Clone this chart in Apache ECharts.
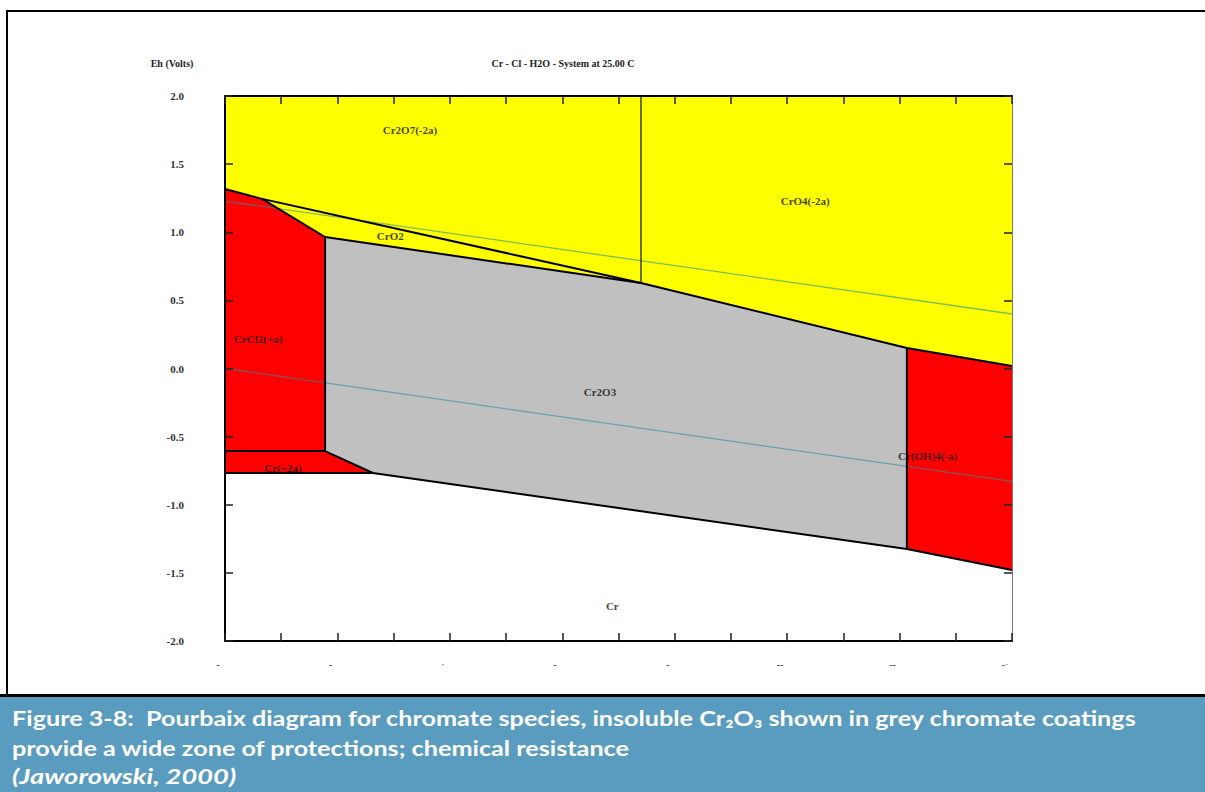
<!DOCTYPE html>
<html><head><meta charset="utf-8">
<script src="https://cdn.jsdelivr.net/npm/echarts@6/dist/echarts.min.js"></script>
<style>html,body{margin:0;padding:0;background:#fff;}#c{width:1205px;height:792px;}</style>
</head><body><div id="c"></div>
<script>
// ---- data (pH, Eh in volts) ----
const yTickValues = [-2, -1.5, -1, -0.5, 0, 0.5, 1, 1.5, 2];
const xTickLabels = ['-', '-', '\u00b7', '-', '-', '--', '--', '-\u00b7']; // illegible labels at pH 0,2,...,14
const ptA = [0, 1.317];
const ptB = [0.66, 1.245];
const ptC = [1.78, 0.965];
const ptD = [7.4, 0.628];
const ptF = [12.13, 0.151];
const ptG = [14, 0.018];
const ptH = [1.78, -0.606];
const ptI = [2.63, -0.767];
const ptJ = [12.13, -1.325];
const ptK = [14, -1.479];
const ptL = [0, -0.767];
const ptM = [0, -0.606];
const ptTopMid = [7.4, 2];
const cr2o7Region = [[0, 2], ptTopMid, ptD, ptB, ptA];
const cro4Region = [ptTopMid, [14, 2], ptG, ptF, ptD];
const cro2Region = [ptB, ptD, ptC];
const cr2o3Region = [ptC, ptD, ptF, ptJ, ptI, ptH];
const crcl2Region = [ptA, ptB, ptC, ptH, ptM];
const cr2Region = [ptM, ptH, ptI, ptL];
const croh4Region = [ptF, ptG, ptK, ptJ];
const o2Line = [[0, 1.229], [14, 0.4]];
const h2Line = [[0, 0], [14, -0.829]];
const boundaryLines = [
  [ptA, ptB, ptD, ptF, ptG],
  [ptB, ptC, ptD],
  [ptC, ptH, ptI, ptJ, ptK],
  [ptM, ptH],
  [ptL, ptI],
  [ptF, ptJ]
];
const midBoundary = [ptTopMid, ptD];
const regionLabels = ['Cr2O7(-2a)', 'CrO4(-2a)', 'CrO2', 'CrCl2(+a)', 'Cr2O3', 'Cr(+2a)', 'Cr(OH)4(-a)', 'Cr'];
const regionLabelPos = [[3.29, 1.75], [10.32, 1.23], [2.94, 0.97], [0.59, 0.22], [6.67, -0.17], [1.03, -0.73], [12.5, -0.64], [6.89, -1.74]];

const serif = '"Liberation Serif", "DejaVu Serif", serif';
const capFont = 'Lato, "Open Sans", "DejaVu Sans", sans-serif';

function polySeries(poly, color) {
  return {
    type: 'custom', coordinateSystem: 'cartesian2d', z: 1, silent: true,
    data: [0],
    renderItem: function (params, api) {
      return { type: 'polygon', shape: { points: poly.map(p => api.coord(p)) },
        style: { fill: color, stroke: color, lineWidth: 0.5 } };
    }
  };
}
function lineSeries(pts, color, width, z, opacity) {
  return { type: 'line', data: pts, showSymbol: false, silent: true, z: z,
    lineStyle: { color: color, width: width, opacity: opacity == null ? 1 : opacity }, animation: false };
}

const series = [
  polySeries(cr2o7Region, '#ffff00'),
  polySeries(cro4Region, '#ffff00'),
  polySeries(cro2Region, '#ffff00'),
  polySeries(cr2o3Region, '#c0c0c0'),
  polySeries(crcl2Region, '#ff0000'),
  polySeries(cr2Region, '#ff0000'),
  polySeries(croh4Region, '#ff0000'),
  lineSeries(o2Line, '#2a8f9a', 1.3, 2, 0.6),
  lineSeries(h2Line, '#2a8f9a', 1.3, 2, 0.6),
  lineSeries(midBoundary, '#4a4a00', 1.6, 3)
];
boundaryLines.forEach(l => series.push(lineSeries(l, '#000', 2, 3)));
series.push({
  type: 'scatter', symbolSize: 0, z: 5, silent: true,
  data: regionLabels.map((n, i) => ({ name: n, value: regionLabelPos[i] })),
  label: { show: true, position: 'inside', formatter: p => p.name, color: '#111',
    fontFamily: serif, fontWeight: 'bold', fontSize: 11 }
});

const tick = { inside: true, length: 8, lineStyle: { color: '#222', width: 1.5 } };
const chart = echarts.init(document.getElementById('c'), null, { renderer: 'svg' });
chart.setOption({
  animation: false,
  backgroundColor: '#fff',
  grid: { left: 225, top: 96, right: 193, bottom: 151 },
  xAxis: [
    { type: 'value', min: 0, max: 14, interval: 1, position: 'bottom', z: 10,
      axisLine: { onZero: false, lineStyle: { color: '#000', width: 2 } },
      axisTick: tick, splitLine: { show: false },
      axisLabel: { margin: 18, fontSize: 10, color: '#333', fontFamily: serif, padding: [0, 14, 0, 0],
        formatter: v => (v % 2 === 0 ? xTickLabels[v / 2] : '') } },
    { type: 'value', min: 0, max: 14, interval: 1, position: 'top', z: 10,
      axisLine: { onZero: false, lineStyle: { color: '#000', width: 2 } },
      axisTick: tick, splitLine: { show: false }, axisLabel: { show: false } }
  ],
  yAxis: [
    { type: 'value', min: -2, max: 2, interval: 0.5, position: 'left', z: 10,
      axisLine: { onZero: false, lineStyle: { color: '#000', width: 2 } },
      axisTick: tick, splitLine: { show: false },
      axisLabel: { margin: 41, fontSize: 11, color: '#333', fontWeight: 'bold', fontFamily: serif,
        formatter: v => v.toFixed(1) } },
    { type: 'value', min: -2, max: 2, interval: 0.5, position: 'right', z: 10,
      axisLine: { onZero: false, lineStyle: { color: '#777', width: 1 } },
      axisTick: tick, splitLine: { show: false }, axisLabel: { show: false } }
  ],
  series: series,
  graphic: [
    { type: 'line', shape: { x1: 7, y1: 11, x2: 1205, y2: 11 }, style: { stroke: '#000', lineWidth: 2 } },
    { type: 'line', shape: { x1: 7, y1: 10, x2: 7, y2: 697 }, style: { stroke: '#000', lineWidth: 2 } },
    { type: 'rect', shape: { x: 0, y: 697, width: 1205, height: 95 }, style: { fill: '#5a9bc0' } },
    { type: 'line', shape: { x1: 0, y1: 695.5, x2: 1205, y2: 695.5 }, style: { stroke: '#000', lineWidth: 3 } },
    { type: 'text', x: 172, y: 63, style: { text: 'Eh (Volts)', fontFamily: serif, fontWeight: 'bold', fontSize: 10,
      fill: '#222', align: 'center', verticalAlign: 'middle' } },
    { type: 'text', x: 563, y: 63, style: { text: 'Cr - Cl - H2O - System at 25.00 C', fontFamily: serif, fontWeight: 'bold', fontSize: 10,
      fill: '#222', align: 'center', verticalAlign: 'middle' } },
    { type: 'text', x: 12, y: 718, scaleX: 1.2, style: { text: 'Figure 3-8:  Pourbaix diagram for chromate species, insoluble Cr\u2082O\u2083 shown in grey chromate coatings',
      fontFamily: capFont, fontWeight: 'bold', fontSize: 21, fill: '#fff', align: 'left', verticalAlign: 'middle' } },
    { type: 'text', x: 12, y: 748, scaleX: 1.2, style: { text: 'provide a wide zone of protections; chemical resistance',
      fontFamily: capFont, fontWeight: 'bold', fontSize: 21, fill: '#fff', align: 'left', verticalAlign: 'middle' } },
    { type: 'text', x: 12, y: 776, scaleX: 1.3, style: { text: '(Jaworowski, 2000)',
      fontFamily: capFont, fontWeight: 'bold', fontStyle: 'italic', fontSize: 21, fill: '#fff', align: 'left', verticalAlign: 'middle' } }
  ]
});
</script></body></html>
